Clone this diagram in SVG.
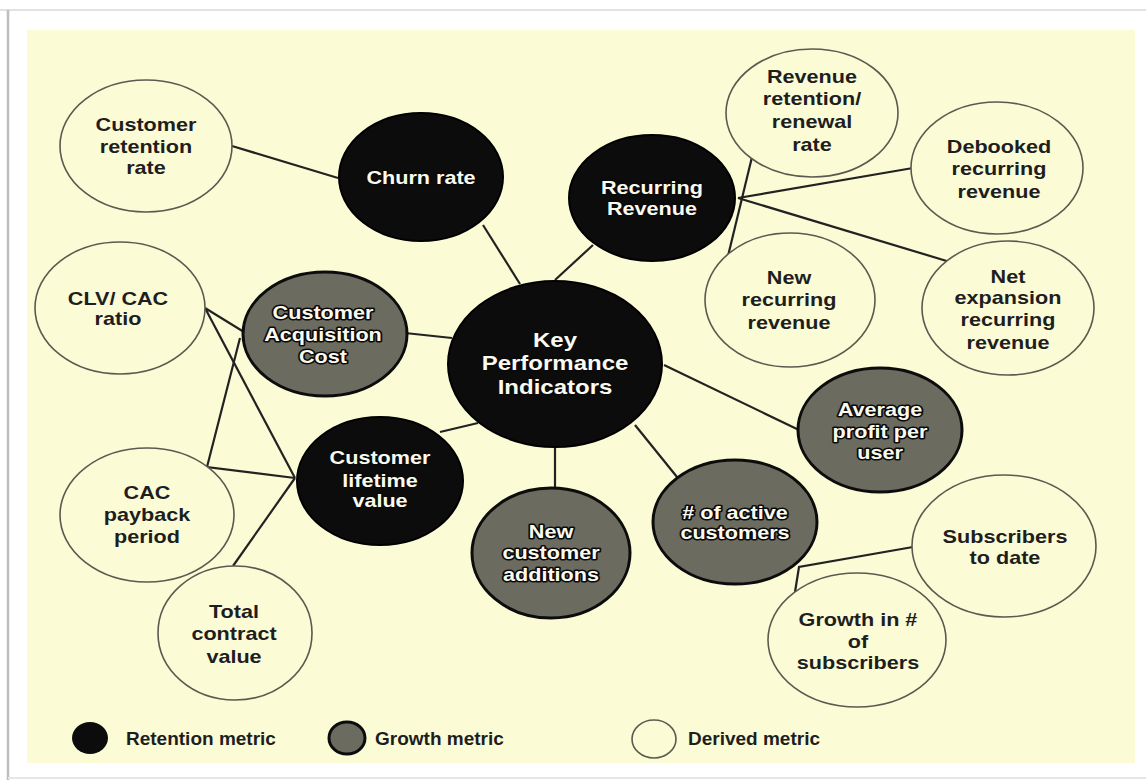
<svg xmlns="http://www.w3.org/2000/svg" width="1146" height="780" viewBox="0 0 1146 780">
<style>
.der{fill:#fbfbd6;stroke:#5a5a50;stroke-width:1.6}
.ret{fill:#0c0c0c;stroke:#000;stroke-width:2}
.gro{fill:#6b6b60;stroke:#0c0c0c;stroke-width:3}
.dt{font-family:"Liberation Sans",Arial,sans-serif;font-weight:bold;font-size:18px;fill:#1e1e1e;text-anchor:middle}
.ft{font-family:"Liberation Sans",Arial,sans-serif;font-weight:bold;font-size:18px;fill:#fafaf0;stroke:#0a0a0a;stroke-width:3;paint-order:stroke;stroke-linejoin:round;text-anchor:middle}
.lt{font-family:"Liberation Sans",Arial,sans-serif;font-weight:bold;font-size:19px;fill:#1e1e1e}
.cn{fill:none;stroke:#222;stroke-width:2.2;stroke-linejoin:miter}
</style>
<rect x="0" y="0" width="1146" height="780" fill="#ffffff"/>
<line x1="0" y1="10" x2="1146" y2="10" stroke="#e2e2e2" stroke-width="2"/>
<line x1="8" y1="10" x2="8" y2="780" stroke="#bdbdbd" stroke-width="2.5"/>
<line x1="8" y1="778" x2="1146" y2="778" stroke="#e6e6e6" stroke-width="2"/>
<rect x="27" y="30" width="1108" height="733" fill="#fbfbd6"/>

<g id="connectors">
<line class="cn" x1="232" y1="146" x2="338" y2="178"/>
<line class="cn" x1="483" y1="225" x2="520" y2="284"/>
<line class="cn" x1="593" y1="245" x2="555" y2="280"/>
<line class="cn" x1="752" y1="157" x2="728" y2="256"/>
<line class="cn" x1="738" y1="198" x2="913" y2="168"/>
<line class="cn" x1="738" y1="198" x2="950" y2="262"/>
<line class="cn" x1="405" y1="333" x2="452" y2="338"/>
<line class="cn" x1="440" y1="432" x2="478" y2="423"/>
<line class="cn" x1="555" y1="447" x2="555" y2="488"/>
<line class="cn" x1="635" y1="425" x2="677" y2="477"/>
<line class="cn" x1="664" y1="365" x2="799" y2="430"/>
<line class="cn" x1="205" y1="308" x2="244" y2="332"/>
<line class="cn" x1="205" y1="308" x2="295" y2="478"/>
<polyline class="cn" points="240,338 207,467 295,478"/>
<line class="cn" x1="295" y1="478" x2="233" y2="566"/>
<polyline class="cn" points="913,547 799,567 795,592"/>
</g>

<g id="customer-retention-rate">
<ellipse class="der" cx="146" cy="146" rx="86" ry="66"/>
<text class="dt" transform="translate(146,0) scale(1.2,1)"><tspan x="0" y="131">Customer</tspan><tspan x="0" y="153">retention</tspan><tspan x="0" y="174">rate</tspan></text>
</g>
<g id="clv-cac-ratio">
<ellipse class="der" cx="120" cy="308" rx="85" ry="66"/>
<text class="dt" transform="translate(118,0) scale(1.2,1)"><tspan x="0" y="305">CLV/ CAC</tspan><tspan x="0" y="325">ratio</tspan></text>
</g>
<g id="cac-payback-period">
<ellipse class="der" cx="147" cy="515" rx="87" ry="67"/>
<text class="dt" transform="translate(147,0) scale(1.2,1)"><tspan x="0" y="499">CAC</tspan><tspan x="0" y="521">payback</tspan><tspan x="0" y="543">period</tspan></text>
</g>
<g id="total-contract-value">
<ellipse class="der" cx="235" cy="633" rx="77" ry="67"/>
<text class="dt" transform="translate(234,0) scale(1.2,1)"><tspan x="0" y="618">Total</tspan><tspan x="0" y="640">contract</tspan><tspan x="0" y="663">value</tspan></text>
</g>
<g id="revenue-retention">
<ellipse class="der" cx="812" cy="113" rx="86" ry="64"/>
<text class="dt" transform="translate(812,0) scale(1.2,1)"><tspan x="0" y="83">Revenue</tspan><tspan x="0" y="105">retention/</tspan><tspan x="0" y="128">renewal</tspan><tspan x="0" y="151">rate</tspan></text>
</g>
<g id="debooked-recurring-revenue">
<ellipse class="der" cx="997" cy="168" rx="86" ry="66"/>
<text class="dt" transform="translate(999,0) scale(1.2,1)"><tspan x="0" y="153">Debooked</tspan><tspan x="0" y="175">recurring</tspan><tspan x="0" y="198">revenue</tspan></text>
</g>
<g id="new-recurring-revenue">
<ellipse class="der" cx="790" cy="300" rx="85" ry="67"/>
<text class="dt" transform="translate(789,0) scale(1.2,1)"><tspan x="0" y="284">New</tspan><tspan x="0" y="306">recurring</tspan><tspan x="0" y="329">revenue</tspan></text>
</g>
<g id="net-expansion-recurring-revenue">
<ellipse class="der" cx="1008" cy="308" rx="86" ry="67"/>
<text class="dt" transform="translate(1008,0) scale(1.2,1)"><tspan x="0" y="283">Net</tspan><tspan x="0" y="304">expansion</tspan><tspan x="0" y="326">recurring</tspan><tspan x="0" y="349">revenue</tspan></text>
</g>
<g id="subscribers-to-date">
<ellipse class="der" cx="1004" cy="546" rx="92" ry="71"/>
<text class="dt" transform="translate(1005,0) scale(1.2,1)"><tspan x="0" y="543">Subscribers</tspan><tspan x="0" y="564">to date</tspan></text>
</g>
<g id="growth-in-subscribers">
<ellipse class="der" cx="857" cy="640" rx="89" ry="67"/>
<text class="dt" transform="translate(858,0) scale(1.2,1)"><tspan x="0" y="626">Growth in #</tspan><tspan x="0" y="648">of</tspan><tspan x="0" y="669">subscribers</tspan></text>
</g>

<g id="churn-rate">
<ellipse class="ret" cx="421" cy="177" rx="82" ry="64"/>
<text class="ft" transform="translate(421,0) scale(1.2,1)"><tspan x="0" y="184">Churn rate</tspan></text>
</g>
<g id="recurring-revenue">
<ellipse class="ret" cx="652" cy="198" rx="83" ry="63"/>
<text class="ft" transform="translate(652,0) scale(1.2,1)"><tspan x="0" y="194">Recurring</tspan><tspan x="0" y="215">Revenue</tspan></text>
</g>
<g id="kpi">
<ellipse class="ret" cx="555" cy="364" rx="107" ry="83"/>
<text class="ft" style="font-size:20px" transform="translate(555,0) scale(1.2,1)"><tspan x="0" y="347">Key</tspan><tspan x="0" y="370">Performance</tspan><tspan x="0" y="394">Indicators</tspan></text>
</g>
<g id="customer-acquisition-cost">
<ellipse class="gro" cx="325" cy="334" rx="82" ry="62"/>
<text class="ft" transform="translate(323,0) scale(1.2,1)"><tspan x="0" y="319">Customer</tspan><tspan x="0" y="341">Acquisition</tspan><tspan x="0" y="363">Cost</tspan></text>
</g>
<g id="customer-lifetime-value">
<ellipse class="ret" cx="380" cy="481" rx="83" ry="64"/>
<text class="ft" transform="translate(380,0) scale(1.2,1)"><tspan x="0" y="464">Customer</tspan><tspan x="0" y="487">lifetime</tspan><tspan x="0" y="507">value</tspan></text>
</g>
<g id="new-customer-additions">
<ellipse class="gro" cx="551" cy="553" rx="79" ry="65"/>
<text class="ft" transform="translate(551,0) scale(1.2,1)"><tspan x="0" y="538">New</tspan><tspan x="0" y="559">customer</tspan><tspan x="0" y="581">additions</tspan></text>
</g>
<g id="active-customers">
<ellipse class="gro" cx="735" cy="522" rx="82" ry="62"/>
<text class="ft" transform="translate(735,0) scale(1.2,1)"><tspan x="0" y="519"># of active</tspan><tspan x="0" y="539">customers</tspan></text>
</g>
<g id="average-profit-per-user">
<ellipse class="gro" cx="880" cy="430" rx="82" ry="62"/>
<text class="ft" transform="translate(880,0) scale(1.2,1)"><tspan x="0" y="416">Average</tspan><tspan x="0" y="438">profit per</tspan><tspan x="0" y="459">user</tspan></text>
</g>

<g id="legend">
<ellipse cx="90" cy="738" rx="18" ry="16" fill="#0c0c0c"/>
<text class="lt" x="126" y="745">Retention metric</text>
<ellipse cx="347" cy="738" rx="18" ry="16" fill="#6b6b60" stroke="#0c0c0c" stroke-width="3"/>
<text class="lt" x="375" y="745">Growth metric</text>
<ellipse cx="654" cy="739" rx="22" ry="19" fill="#fbfbd6" stroke="#5a5a50" stroke-width="1.6"/>
<text class="lt" x="688" y="745">Derived metric</text>
</g>
</svg>
